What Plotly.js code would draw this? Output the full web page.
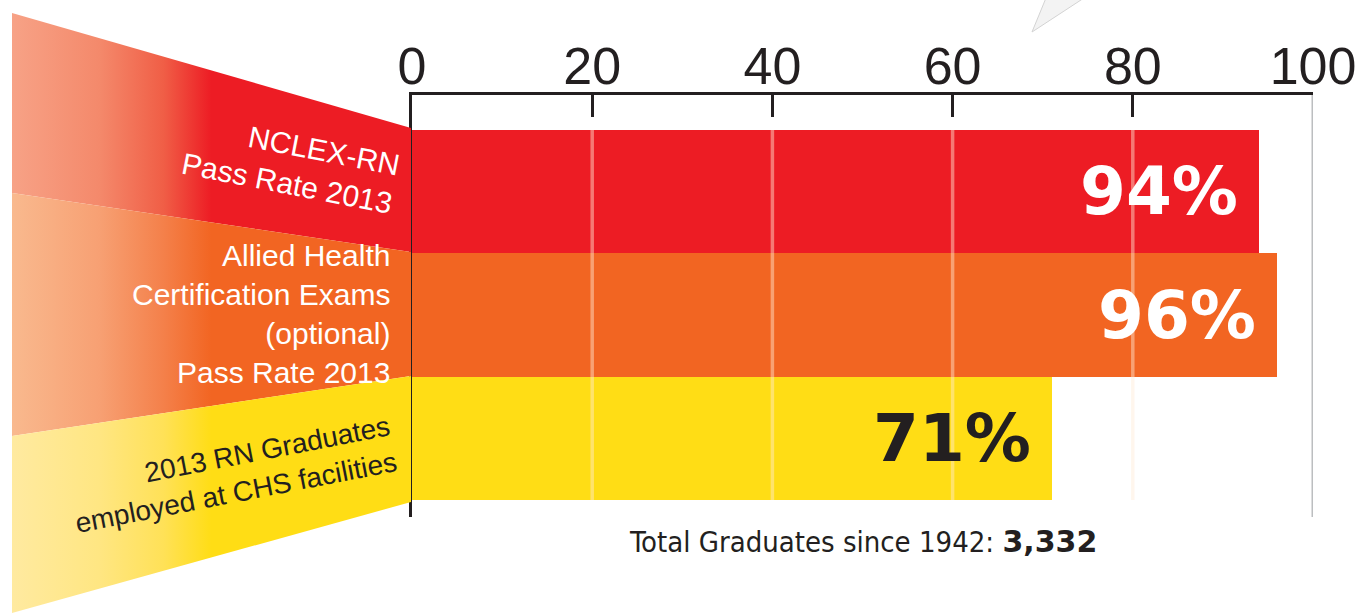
<!DOCTYPE html>
<html>
<head>
<meta charset="utf-8">
<script src="https://cdn.plot.ly/plotly-3.0.1.min.js"></script>
<style>
  html, body { margin: 0; padding: 0; background: #ffffff; }
  #chart { width: 1363px; height: 614px; }
</style>
</head>
<body>
<div id="chart"></div>
<script>
// ---------------- data ----------------
const categories = [
  'NCLEX-RN Pass Rate 2013',
  'Allied Health Certification Exams (optional) Pass Rate 2013',
  '2013 RN Graduates employed at CHS facilities'
];
const categoryLabels = [
  'NCLEX-RN<br>Pass Rate 2013',
  'Allied Health<br>Certification Exams<br>(optional)<br>Pass Rate 2013',
  '2013 RN Graduates<br>employed at CHS facilities'
];
const values = [94, 96, 71];
const valueLabels = ['94%', '96%', '71%'];
const tickVals = [0, 20, 40, 60, 80, 100];
const tickLabels = ['0', '20', '40', '60', '80', '100'];
const gridVals = [20, 40, 60, 80];
const footnoteText = 'Total Graduates since 1942: ';
const footnoteValue = '3,332';

// ---------------- styles ----------------
const barColors = ['#ED1C24', '#F26522', '#FFDD15'];
const valueColors = ['#FFFFFF', '#FFFFFF', '#231F20'];
const labelColors = ['#FFFFFF', '#FFFFFF', '#231F20'];
const ink = '#231F20';
const W = 1363, H = 614;
const plotLeft = 412, plotRight = 1313, plotTop = 95, plotBottom = 517;

// decorative label bands (pixel geometry of the left-hand fan)
const bandX = [12, 411, 411, 12, 12];
const bandY = [
  [13, 128, 252, 193, 13],
  [193, 252, 376, 436, 193],
  [436, 376, 502, 613, 436]
];
const bandScales = [
  [[0, '#F7A286'], [0.22, '#F4896B'], [0.38, '#F05E46'], [0.5, '#ED1C24'], [1, '#ED1C24']],
  [[0, '#F9B98E'], [0.22, '#F7A073'], [0.38, '#F4804A'], [0.5, '#F26522'], [1, '#F26522']],
  [[0, '#FFEAA0'], [0.22, '#FFE682'], [0.38, '#FFE157'], [0.5, '#FFDD15'], [1, '#FFDD15']]
];
const labelPos = [
  {x: 290, y: 164, angle: 11, xanchor: 'center', size: 30},
  {x: 392, y: 314, angle: 0, xanchor: 'right', size: 30},
  {x: 232, y: 474, angle: -11, xanchor: 'center', size: 28}
];

const traces = [];
traces.push({
  type: 'bar',
  orientation: 'h',
  x: values,
  y: categories,
  width: 1,
  marker: {color: barColors, line: {width: 0}},
  hoverinfo: 'skip',
  showlegend: false,
  xaxis: 'x', yaxis: 'y'
});

for (let i = 0; i < 3; i++) {
  traces.push({
    type: 'scatter',
    mode: 'lines',
    x: bandX,
    y: bandY[i],
    fill: 'toself',
    fillgradient: {type: 'horizontal', start: 12, stop: 411, colorscale: bandScales[i]},
    line: {width: 0, color: 'rgba(0,0,0,0)'},
    hoverinfo: 'skip',
    showlegend: false,
    xaxis: 'x2', yaxis: 'y2'
  });
}

// speech-bubble tail peeking in at the top
traces.push({
  type: 'scatter',
  mode: 'lines',
  x: [1032, 1046, 1084, 1032],
  y: [32, -2, -2, 32],
  fill: 'toself',
  fillcolor: '#F3F3F3',
  line: {width: 1, color: '#D3D3D3'},
  hoverinfo: 'skip',
  showlegend: false,
  xaxis: 'x2', yaxis: 'y2'
});

const annotations = [];
for (let i = 0; i < 3; i++) {
  annotations.push({
    xref: 'x', yref: 'y',
    x: values[i], y: categories[i],
    xanchor: 'right', yanchor: 'middle',
    xshift: -19,
    text: valueLabels[i],
    showarrow: false,
    font: {family: 'DejaVu Sans, Arial Black, sans-serif', size: 66, weight: 'bold', color: valueColors[i]}
  });
  annotations.push({
    xref: 'x2', yref: 'y2',
    x: labelPos[i].x, y: labelPos[i].y,
    xanchor: labelPos[i].xanchor, yanchor: 'middle',
    textangle: labelPos[i].angle,
    align: 'right',
    text: categoryLabels[i],
    showarrow: false,
    font: {family: 'Liberation Sans, Arial, Helvetica, sans-serif', size: labelPos[i].size, color: labelColors[i]}
  });
}
annotations.push({
  xref: 'x2', yref: 'y2',
  x: 863, y: 541,
  xanchor: 'center', yanchor: 'middle',
  showarrow: false,
  text: footnoteText + '<span style="font-family:\'DejaVu Sans\';font-weight:bold;font-size:30px">' + footnoteValue + '</span>',
  font: {family: 'DejaVu Sans Condensed, Liberation Sans Narrow, Liberation Sans, Arial', size: 29, color: ink}
});

const shapes = [{
  type: 'line', xref: 'x', yref: 'y domain',
  x0: 100, x1: 100, y0: 0, y1: 1,
  line: {color: '#BCBEC0', width: 3},
  layer: 'below'
}];
gridVals.forEach(function (v) {
  shapes.push({
    type: 'line', xref: 'x', yref: 'y',
    x0: v, x1: v, y0: -0.5, y1: 2.5,
    line: {color: 'rgba(255,236,215,0.45)', width: 3.5},
    layer: 'above'
  });
});

const layout = {
  width: W, height: H,
  margin: {l: 0, r: 0, t: 0, b: 0, pad: 0},
  paper_bgcolor: '#FFFFFF',
  plot_bgcolor: 'rgba(0,0,0,0)',
  showlegend: false,
  hovermode: false,
  bargap: 0,
  xaxis: {
    domain: [plotLeft / W, plotRight / W],
    range: [0, 100],
    side: 'top',
    anchor: 'y',
    tickmode: 'array',
    tickvals: tickVals,
    ticktext: tickLabels,
    ticks: 'inside',
    ticklen: 22,
    tickwidth: 3,
    tickcolor: ink,
    ticklabelstandoff: -13,
    showline: true,
    linecolor: ink,
    linewidth: 3,
    showgrid: false,
    zeroline: false,
    layer: 'above traces',
    tickfont: {family: 'Liberation Sans, Arial, Helvetica, sans-serif', size: 52, color: ink},
    fixedrange: true
  },
  yaxis: {
    domain: [1 - plotBottom / H, 1 - plotTop / H],
    type: 'category',
    categoryarray: categories,
    range: [2.638, -0.784],
    anchor: 'x',
    showticklabels: false,
    ticks: '',
    showgrid: false,
    zeroline: false,
    showline: true,
    linecolor: ink,
    linewidth: 3,
    layer: 'above traces',
    fixedrange: true
  },
  xaxis2: {domain: [0, 1], range: [0, W], anchor: 'y2', visible: false, fixedrange: true},
  yaxis2: {domain: [0, 1], range: [H, 0], anchor: 'x2', visible: false, fixedrange: true},
  shapes: shapes,
  annotations: annotations
};

Plotly.newPlot('chart', traces, layout, {staticPlot: true, displayModeBar: false});
</script>
</body>
</html>
